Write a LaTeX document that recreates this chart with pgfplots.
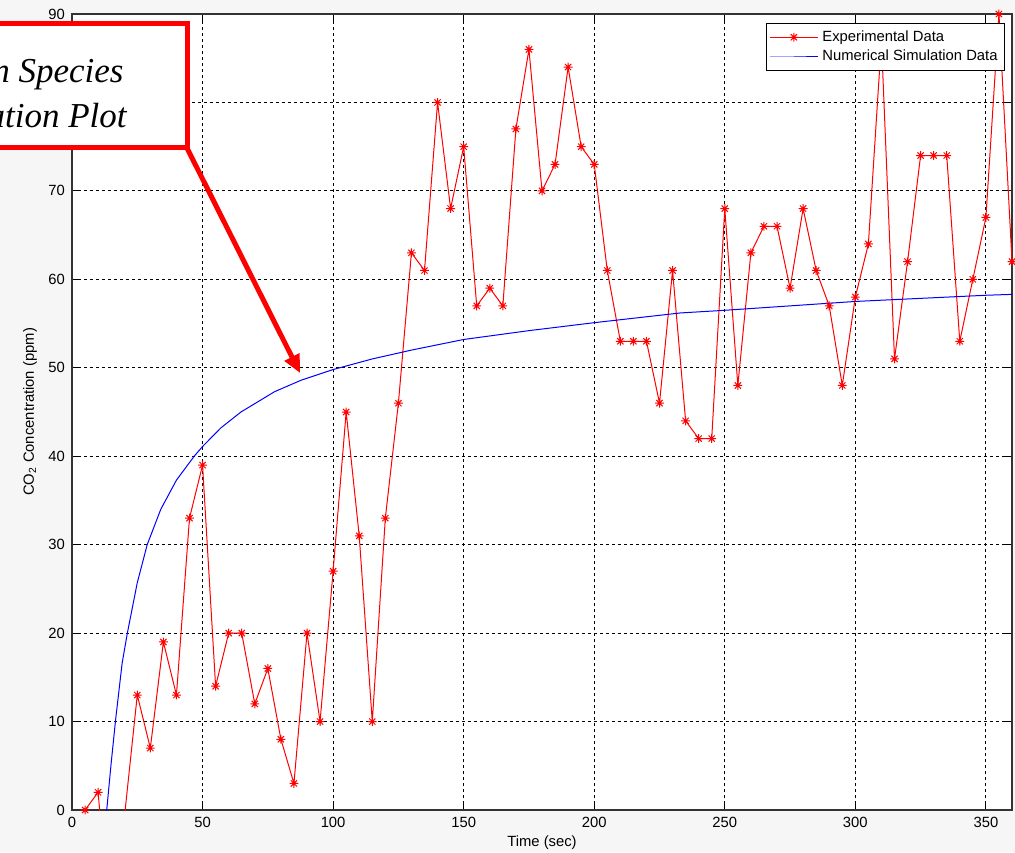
\documentclass[border=0pt]{standalone}
\usepackage{pgfplots}
\pgfplotsset{compat=1.18}
\usepackage{fontspec}
\setmainfont{Liberation Sans}
\newfontfamily\timesit{Liberation Serif}[ItalicFont=* Italic]
\usetikzlibrary{arrows.meta}
\definecolor{bg}{RGB}{246,246,246}
\pgfdeclareplotmark{mstar}{%
 \pgfpathmoveto{\pgfqpoint{-\pgfplotmarksize}{0pt}}\pgfpathlineto{\pgfqpoint{\pgfplotmarksize}{0pt}}%
 \pgfpathmoveto{\pgfqpoint{0pt}{-\pgfplotmarksize}}\pgfpathlineto{\pgfqpoint{0pt}{\pgfplotmarksize}}%
 \pgfpathmoveto{\pgfqpoint{-.7071\pgfplotmarksize}{-.7071\pgfplotmarksize}}\pgfpathlineto{\pgfqpoint{.7071\pgfplotmarksize}{.7071\pgfplotmarksize}}%
 \pgfpathmoveto{\pgfqpoint{-.7071\pgfplotmarksize}{.7071\pgfplotmarksize}}\pgfpathlineto{\pgfqpoint{.7071\pgfplotmarksize}{-.7071\pgfplotmarksize}}%
 \pgfusepathqstroke}
\begin{document}
\begin{tikzpicture}
\fill[bg] (-36pt,-21pt) rectangle (471.5pt,405pt);
\begin{axis}[
 at={(0pt,0pt)}, anchor=south west, scale only axis, width=470pt, height=398pt,
 xmin=0, xmax=360, ymin=0, ymax=90,
 xtick={0,50,...,350}, ytick={0,10,...,90},
 grid=major,
 major grid style={black, line width=0.5pt, dash pattern=on 1.5pt off 1.5pt},
 tick align=inside, tick pos=both, major tick length=3.5pt,
 tick style={black, line width=0.5pt},
 axis line style={black!80, line width=0.6pt},
 axis background/.style={fill=white},
 font=\fontsize{7.4}{9}\selectfont,
 ticklabel style={font=\fontsize{7.4}{9}\selectfont},
 /pgf/number format/assume math mode=true,
 xlabel={Time (sec)},
 ylabel={CO\textsubscript{2} Concentration (ppm)},
 xlabel style={at={(axis description cs:0.5,-0.0415)}, anchor=center},
 ylabel style={at={(axis description cs:-0.0447,0.5)}, anchor=center},
 legend style={at={(1,1)}, anchor=north east, xshift=-3.5pt, yshift=-4.5pt,
   fill=white, font=\fontsize{7.4}{9}\selectfont,
   cells={anchor=west}, inner sep=1.5pt, row sep=-1pt},
 legend image code/.code={\draw[mark repeat=2,mark phase=2] plot coordinates {(0pt,0pt) (12pt,0pt) (24pt,0pt)};},
]
\addplot[color=red, draw=red, line width=0.5pt, mark=mstar, mark size=2.2pt, mark options={line width=0.5pt, solid, draw=red}] coordinates {
(5,0)(10,2)(15,-15)(25,13)(30,7)(35,19)(40,13)(45,33)(50,39)(55,14)(60,20)(65,20)(70,12)(75,16)(80,8)(85,3)(90,20)(95,10)(100,27)(105,45)(110,31)(115,10)(120,33)(125,46)(130,63)(135,61)(140,80)(145,68)(150,75)(155,57)(160,59)(165,57)(170,77)(175,86)(180,70)(185,73)(190,84)(195,75)(200,73)(205,61)(210,53)(215,53)(220,53)(225,46)(230,61)(235,44)(240,42)(245,42)(250,68)(255,48)(260,63)(265,66)(270,66)(275,59)(280,68)(285,61)(290,57)(295,48)(300,58)(305,64)(310,87)(315,51)(320,62)(325,74)(330,74)(335,74)(340,53)(345,60)(350,67)(355,90)(360,62)
};
\addlegendentry{Experimental Data}
\addplot[color=blue, draw=blue, line width=0.5pt, no marks] coordinates {
(12,-8)(13.3,0)(15,5.3)(16.7,10.2)(19.2,16.6)(21.2,20)(25,25.7)(28.8,30)(34,34)(40,37.3)(46.8,40)(50,41.1)(57,43.2)(64.7,45)(77.6,47.3)(87.8,48.6)(100,49.8)(115,51)(130,52)(150,53.2)(175,54.2)(200,55.1)(233,56.2)(250,56.5)(300,57.5)(350,58.2)(360,58.3)
};
\addlegendentry{Numerical Simulation Data}
\end{axis}
\draw[red, line width=2.5pt, fill=white] (-130pt,331pt) rectangle (57.5pt,393pt);
\draw[red, line width=2.5pt, -{Triangle[length=9pt,width=8pt]}] (57.5pt,331pt) -- (114pt,218.5pt);
\node[anchor=base east, inner sep=0pt, font=\timesit\itshape\fontsize{17.5}{21}\selectfont] at (26pt,363.5pt) {Carbon Species};
\node[anchor=base east, inner sep=0pt, font=\timesit\itshape\fontsize{17.5}{21}\selectfont] at (27.5pt,341pt) {Concentration Plot};
\pgfresetboundingbox
\useasboundingbox (-36pt,-21pt) rectangle (471.5pt,405pt);
\end{tikzpicture}
\end{document}
